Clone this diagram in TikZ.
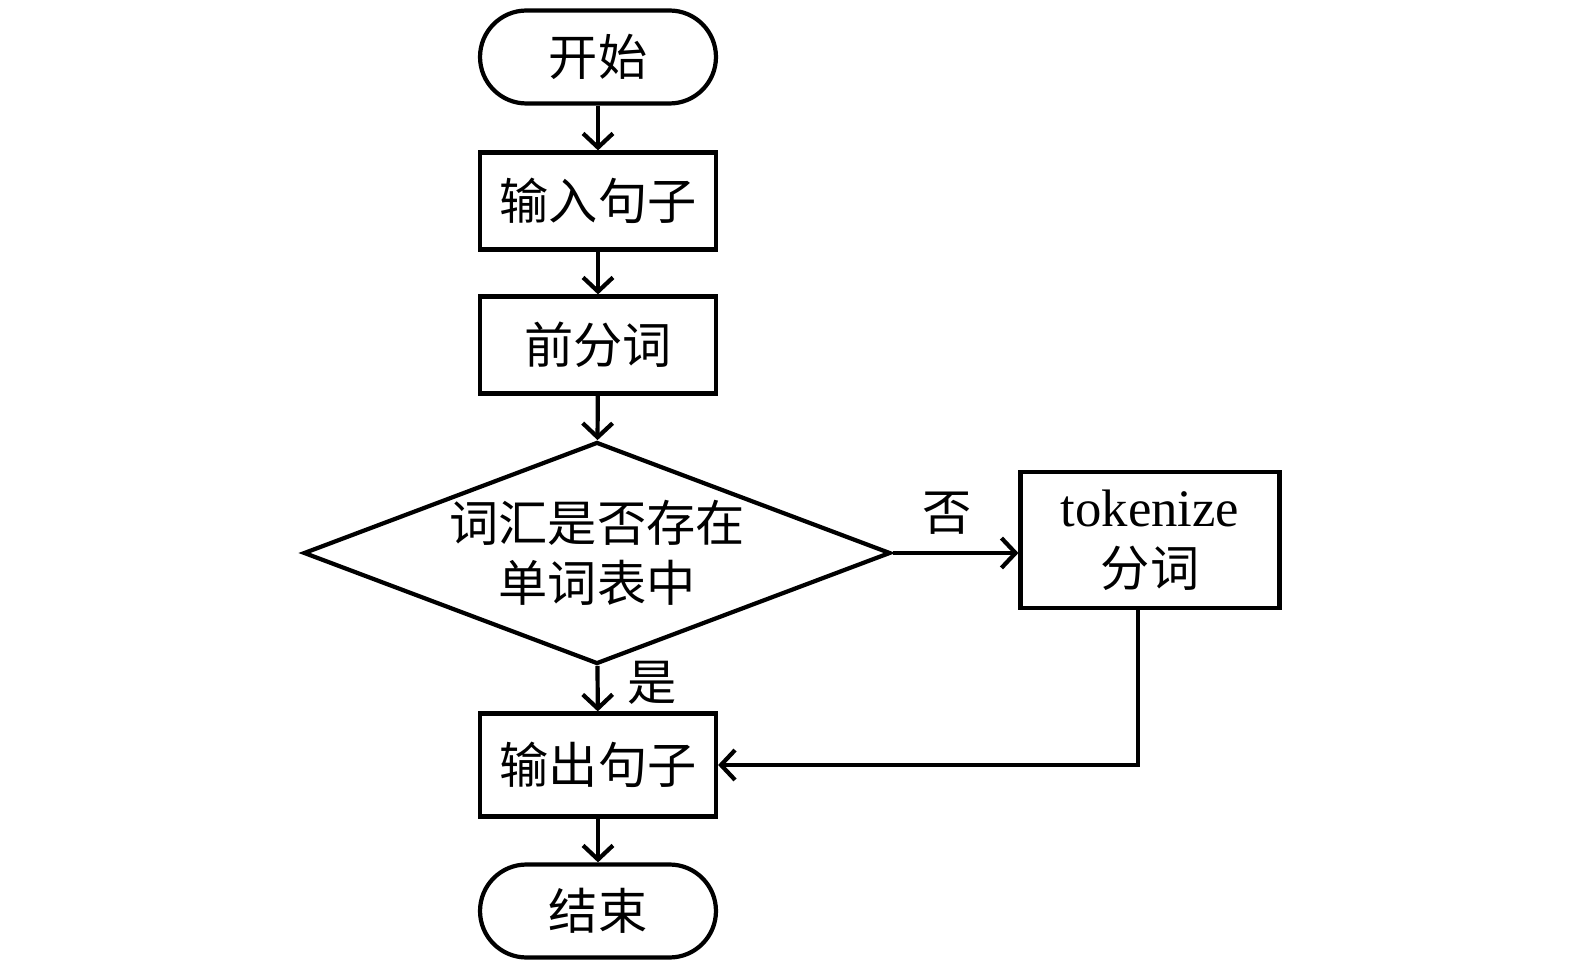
\documentclass[tikz,border=0pt]{standalone}
\usepackage{fontspec}
\setmainfont{Liberation Serif}
\newfontfamily\cjk{Noto Sans CJK SC}
\usetikzlibrary{arrows.meta, shapes.geometric, positioning}

\tikzset{
    box/.style={draw, rectangle, line width=2.4pt, minimum width=4.72cm, minimum height=1.94cm, inner sep=0pt, font=\cjk\fontsize{28}{34}\selectfont},
    term/.style={box, minimum height=1.86cm, rounded corners=0.93cm},
    choice/.style={draw, diamond, aspect=2.64, line width=2.4pt, minimum width=11.74cm, minimum height=4.44cm, inner sep=0pt, align=center, font=\cjk\fontsize{28}{34}\selectfont},
    flow/.style={-{Straight Barb[length=8pt, width=17pt, line width=2.4pt]}, line width=2.4pt},
    lbl/.style={font=\cjk\fontsize{28}{34}\selectfont}
}

\begin{document}
\begin{tikzpicture}[x=0.02cm, y=-0.02cm]
    \useasboundingbox (0, 0) rectangle (1575, 972);
    \node[term] (start) at (598, 57) {开始};
    \node[box] (input) at (598, 201) {输入句子};
    \node[box] (pre) at (598, 345) {前分词};
    \node[choice] (check) at (597, 553) {词汇是否存在\\单词表中};
    \node[box, minimum width=5.18cm, minimum height=2.72cm, align=center] (tok) at (1150, 540) {{\rmfamily\fontsize{30}{34}\selectfont tokenize}\\分词};
    \node[box, minimum height=2.06cm] (output) at (598, 765) {输出句子};
    \node[term] (end) at (598, 911) {结束};
    \node[lbl] (no) at (947, 513) {否};
    \node[lbl] (yes) at (652, 683) {是};
    \draw[flow] (start) -- (input);
    \draw[flow] (input) -- (pre);
    \draw[flow] (pre) -- (check);
    \draw[flow] (check) -- (output);
    \draw[flow] (check.east) -- (check.east -| tok.west);
    \draw[flow] ([xshift=-0.24cm]tok.south) |- (output.east);
    \draw[flow] (output) -- (end);
\end{tikzpicture}
\end{document}
